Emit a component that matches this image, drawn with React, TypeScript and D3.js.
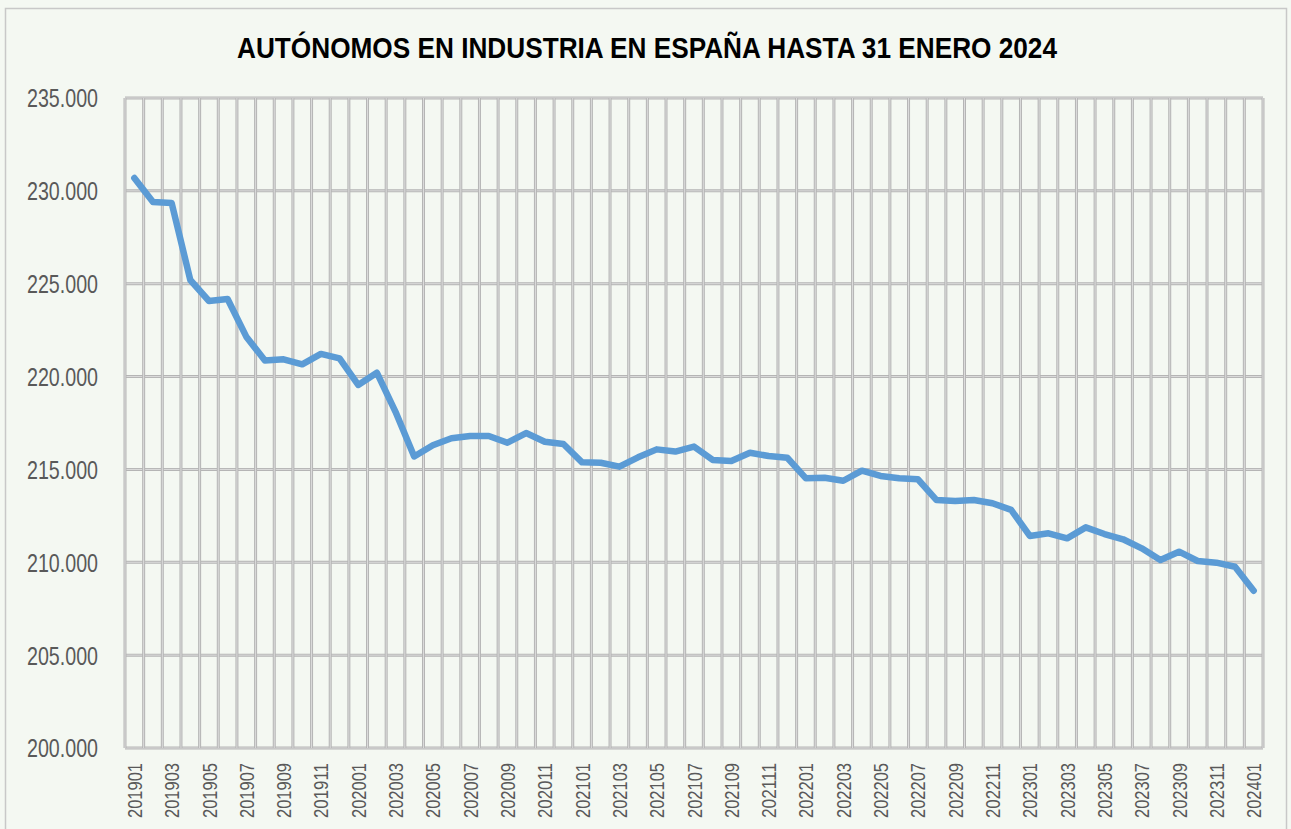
import React, { useEffect, useRef } from "react";
import * as d3 from "d3";

const TITLE = "AUTÓNOMOS EN INDUSTRIA EN ESPAÑA HASTA 31 ENERO 2024";

const months: string[] = [
  "201901","201902","201903","201904","201905","201906","201907","201908","201909","201910","201911","201912",
  "202001","202002","202003","202004","202005","202006","202007","202008","202009","202010","202011","202012",
  "202101","202102","202103","202104","202105","202106","202107","202108","202109","202110","202111","202112",
  "202201","202202","202203","202204","202205","202206","202207","202208","202209","202210","202211","202212",
  "202301","202302","202303","202304","202305","202306","202307","202308","202309","202310","202311","202312",
  "202401",
];

const autonomos: number[] = [
  230690, 229400, 229350, 225200, 224070, 224180, 222150, 220860, 220930, 220660, 221220, 220980,
  219550, 220210, 218100, 215700, 216300, 216680, 216800, 216800, 216440, 216960,
  216490, 216370, 215380, 215360, 215150, 215650, 216080, 215960, 216230, 215510,
  215450, 215900, 215720, 215630, 214520, 214550, 214390, 214930, 214650, 214520,
  214470, 213350, 213300, 213350, 213180, 212820, 211420, 211560, 211290, 211880,
  211520, 211240, 210750, 210120, 210570, 210070, 209980, 209760, 208470,
];

const yTicks: number[] = [200000, 205000, 210000, 215000, 220000, 225000, 230000, 235000];

const W = 1291;
const H = 829;
const M = { left: 125, right: 1263, top: 98, bottom: 748 };
const FONT = "'Liberation Sans Narrow', 'Arial Narrow', 'Liberation Sans', Arial, sans-serif";

export default function App() {
  const ref = useRef<SVGSVGElement | null>(null);

  useEffect(() => {
    const svg = d3.select(ref.current);
    svg.selectAll("*").remove();

    svg.append("rect").attr("x", 0).attr("y", 0).attr("width", W).attr("height", H).attr("fill", "#f4f8f2");
    svg.append("rect").attr("x", 5.5).attr("y", 8.5).attr("width", 1281).attr("height", 830)
      .attr("fill", "#f4f8f2").attr("stroke", "#c8c8c8").attr("stroke-width", 1.5);

    const x = d3.scaleBand<string>().domain(months).range([M.left, M.right]).padding(0);
    const y = d3.scaleLinear().domain([200000, 235000]).range([M.bottom, M.top]);

    const grid = svg.append("g");
    const boundaries = months.map((m) => x(m) as number).concat([M.right]);
    const drawLine = (x1: number, y1: number, x2: number, y2: number) => {
      grid.append("line").attr("x1", x1).attr("y1", y1).attr("x2", x2).attr("y2", y2)
        .attr("stroke", "#b5b5b5").attr("stroke-width", 3);
      grid.append("line").attr("x1", x1).attr("y1", y1).attr("x2", x2).attr("y2", y2)
        .attr("stroke", "#dcdcdc").attr("stroke-width", 1);
    };
    yTicks.forEach((t) => drawLine(M.left, y(t), M.right, y(t)));
    boundaries.forEach((bx) => drawLine(bx, M.top, bx, M.bottom));

    // y labels
    svg.append("g").selectAll("text").data(yTicks).join("text")
      .attr("x", 98).attr("y", (d) => y(d)).attr("dy", "0.36em")
      .attr("text-anchor", "end").attr("font-family", FONT).attr("font-size", 26)
      .attr("textLength", 71).attr("lengthAdjust", "spacingAndGlyphs")
      .attr("fill", "#595959")
      .text((d) => d3.format(",")(d).replace(/,/g, "."));

    // x labels
    svg.append("g").selectAll("text").data(months.filter((_, i) => i % 2 === 0)).join("text")
      .attr("transform", (d) => `translate(${(x(d) as number) + x.bandwidth() / 2},763) rotate(-90)`)
      .attr("dy", "0.36em")
      .attr("text-anchor", "end").attr("font-family", FONT).attr("font-size", 21)
      .attr("textLength", 55).attr("lengthAdjust", "spacingAndGlyphs")
      .attr("fill", "#595959")
      .text((d) => d);

    const line = d3.line<number>()
      .x((_, i) => (x(months[i]) as number) + x.bandwidth() / 2)
      .y((d) => y(d));
    svg.append("path").datum(autonomos).attr("d", line).attr("fill", "none")
      .attr("stroke", "#5b9bd5").attr("stroke-width", 6.5)
      .attr("stroke-linejoin", "round").attr("stroke-linecap", "round");

    svg.append("text").attr("x", 647).attr("y", 58).attr("text-anchor", "middle")
      .attr("font-family", FONT).attr("font-weight", "bold").attr("font-size", 30)
      .attr("textLength", 820).attr("lengthAdjust", "spacingAndGlyphs")
      .attr("fill", "#000").text(TITLE);
  }, []);

  return (
    <svg ref={ref} width={W} height={H}
      style={{ position: "absolute", left: 0, top: 0, display: "block" }} />
  );
}
